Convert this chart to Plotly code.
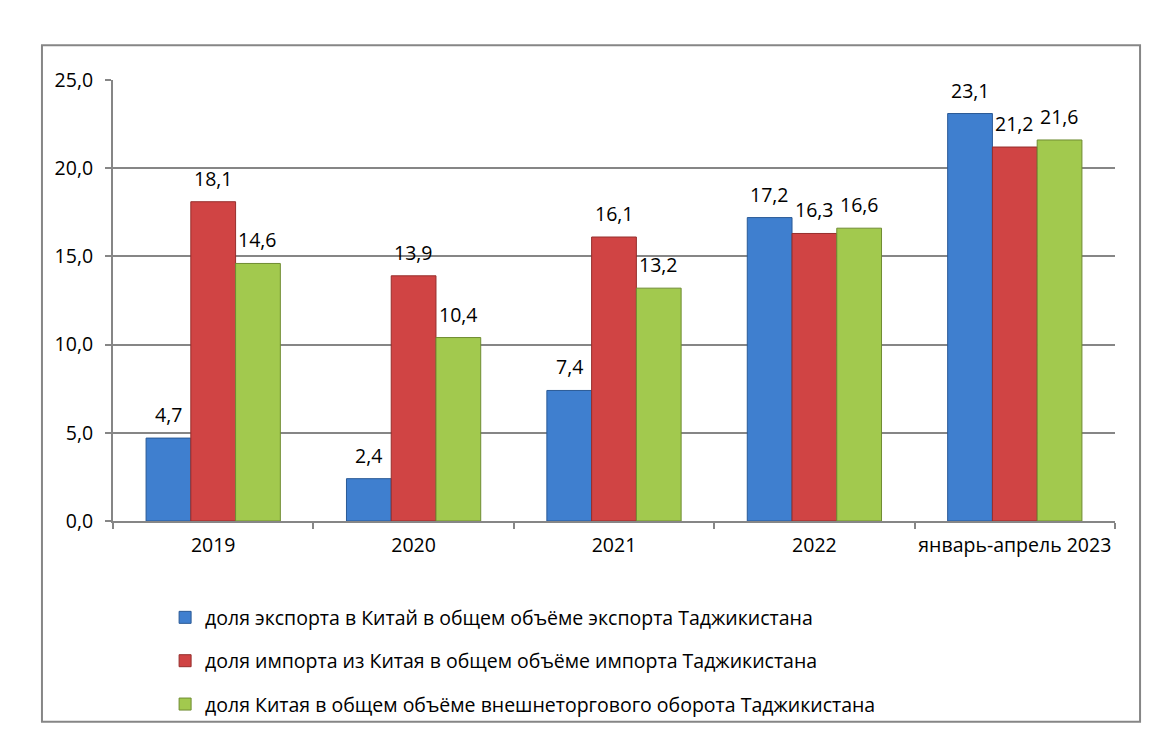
import plotly.graph_objects as go

categories = ["2019", "2020", "2021", "2022", "январь-апрель 2023"]
export_share = [4.7, 2.4, 7.4, 17.2, 23.1]
import_share = [18.1, 13.9, 16.1, 16.3, 21.2]
turnover_share = [14.6, 10.4, 13.2, 16.6, 21.6]
names = [
    "доля экспорта в Китай в общем объёме экспорта Таджикистана",
    "доля импорта из Китая в общем объёме импорта Таджикистана",
    "доля Китая в общем объёме внешнеторгового оборота Таджикистана",
]
colors = ["#3F7FCF", "#D04444", "#A2C94E"]
edges = ["#2A5A96", "#962E2C", "#6F8C32"]

FS = 19.5
series = [export_share, import_share, turnover_share]

fig = go.Figure()
annotations = []
bar_px = 1002 / 5 * (1 - 0.33) / 3
for i, (vals, nm) in enumerate(zip(series, names)):
    fig.add_trace(go.Bar(
        x=categories, y=vals, name=nm,
        marker=dict(color=colors[i], line=dict(color=edges[i], width=1)),
        legendgroup=str(i),
    ))
    for j, v in enumerate(vals):
        annotations.append(dict(
            x=j, y=v, xref="x", yref="y", text=f"{v:.1f}".replace(".", ","),
            showarrow=False, yanchor="bottom", xanchor="center",
            xshift=(i - 1) * bar_px, yshift=8,
            font=dict(size=FS, color="#000000"),
        ))

fig.update_layout(
    width=1166, height=746,
    paper_bgcolor="white", plot_bgcolor="white",
    separators=", ",
    font=dict(family="Open Sans, Noto Sans, sans-serif", size=FS, color="#000000"),
    margin=dict(l=105, r=59, t=72, b=233),
    barmode="group", bargap=0.33, bargroupgap=0,
    showlegend=True,
    legend=dict(x=0.052, y=-0.175, xanchor="left", yanchor="top",
                orientation="v", tracegroupgap=15,
                font=dict(size=FS), bgcolor="rgba(0,0,0,0)"),
    xaxis=dict(type="category", categoryorder="array", categoryarray=categories,
               range=[-0.5, len(categories) - 0.5],
               showline=True, linecolor="#868686", linewidth=2,
               ticks="outside", tickcolor="#868686", ticklen=6, tickwidth=2,
               tickson="boundaries", tickfont=dict(size=FS), tickangle=0,
               ticklabelstandoff=6),
    yaxis=dict(range=[0, 25], dtick=5, tickformat=".1f",
               showgrid=True, gridcolor="#868686", gridwidth=2,
               showline=True, linecolor="#868686", linewidth=2,
               ticks="outside", tickcolor="#868686", ticklen=6, tickwidth=2,
               tickfont=dict(size=FS), zeroline=False, ticklabelstandoff=8),
    annotations=annotations,
    shapes=[dict(type="rect", xref="paper", yref="paper",
                 x0=-0.0709, x1=1.025, y0=-0.455, y1=1.079,
                 line=dict(color="#868686", width=2), fillcolor="rgba(0,0,0,0)")],
)

fig.write_html("out.html")
